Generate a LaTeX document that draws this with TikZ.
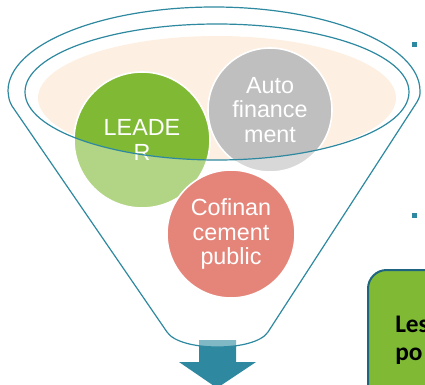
\documentclass[tikz,border=0pt]{standalone}
\usepackage{fontspec}
\setmainfont{Liberation Sans}
\newfontfamily\boxfont{Carlito}
\definecolor{funnelteal}{HTML}{2E89A0}
\definecolor{rimcream}{HTML}{FDF0E2}
\definecolor{leadergreen}{HTML}{80BA35}
\definecolor{autogray}{HTML}{BFBFBF}
\definecolor{cofired}{HTML}{E5857A}
\definecolor{boxedge}{HTML}{1F6480}
% outline of the funnel (rim + sides + rounded bottom)
\newcommand{\funnelbody}{(167,332) -- (12,106) .. controls (9,100) .. (8,91)
  .. controls (8,45) and (100,7) .. (214,7) .. controls (328,7) and (420,45) .. (420,91)
  .. controls (420,96) .. (417,102) -- (268,332) .. controls (255,352) and (180,352) .. (167,332) -- cycle}

\begin{document}
\begin{tikzpicture}[x=0.75pt,y=-0.75pt,
 bubble/.style={circle,draw=white,line width=1.2pt,text=white,align=center,inner sep=0pt,font=\fontsize{17.5}{18.5}\selectfont},
 rim/.style={draw=funnelteal,line width=0.9pt},
 bullet/.style={fill=funnelteal,minimum size=3.8pt,inner sep=0pt},
 resultbox/.style={draw=boxedge,fill=leadergreen,line width=1.5pt,rounded corners=14pt,minimum width=90pt,minimum height=110pt}]
\useasboundingbox (0,0) rectangle (425,385);
\clip (0,0) rectangle (425,385);
% opening of the funnel
\fill[rimcream] (217,98) ellipse [x radius=179, y radius=62];
\node[bubble,fill=leadergreen,minimum size=102pt] (leader) at (142,140) {LEADE\\R};
\node[bubble,fill=autogray,minimum size=93pt] (auto) at (270,110) {Auto\\finance\\ment};
% output arrow
\fill[funnelteal] (199,340) -- (236,340) -- (236,362) -- (256,362) -- (217,388) -- (179,362) -- (199,362) -- cycle;
% funnel wall, lets things show through
\fill[white,opacity=.4,even odd rule] \funnelbody (217,92) ellipse [x radius=192, y radius=68];
\node[bubble,fill=cofired,minimum size=96pt] (cofi) at (231,234) {Cofinan\\cement\\public};
\draw[rim] \funnelbody;
\draw[rim] (217,92) ellipse [x radius=192, y radius=68];
% list on the right
\node[bullet] (item1) at (414.5,44.5) {};
\node[bullet] (item2) at (414.5,215.5) {};
\node[resultbox,anchor=north west] (result) at (367,269) {};
\node[anchor=north west,inner sep=0pt,align=left,font=\boxfont\bfseries\fontsize{19}{21}\selectfont] (resulttext) at (395,316) {Les\\po};
\end{tikzpicture}
\end{document}
